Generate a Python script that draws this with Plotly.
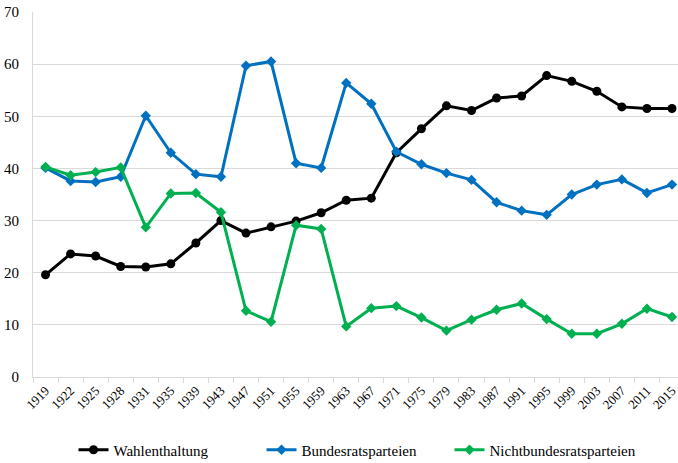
import plotly.graph_objects as go

years = ["1919", "1922", "1925", "1928", "1931", "1935", "1939", "1943", "1947", "1951",
         "1955", "1959", "1963", "1967", "1971", "1975", "1979", "1983", "1987", "1991",
         "1995", "1999", "2003", "2007", "2011", "2015"]

wahlenthaltung = [19.6, 23.6, 23.2, 21.2, 21.1, 21.7, 25.7, 30.0, 27.6, 28.8,
                  29.9, 31.5, 33.9, 34.3, 43.0, 47.6, 52.0, 51.1, 53.5, 53.9,
                  57.8, 56.7, 54.8, 51.8, 51.5, 51.5]

bundesratsparteien = [40.1, 37.6, 37.4, 38.4, 50.1, 43.0, 38.9, 38.4, 59.7, 60.5,
                      41.0, 40.1, 56.4, 52.4, 43.2, 40.8, 39.1, 37.8, 33.5, 31.9,
                      31.1, 35.0, 36.9, 37.9, 35.3, 36.9]

nichtbundesratsparteien = [40.3, 38.7, 39.3, 40.2, 28.7, 35.2, 35.3, 31.6, 12.7, 10.6,
                           29.1, 28.4, 9.7, 13.2, 13.6, 11.4, 8.9, 11.0, 12.9, 14.1,
                           11.1, 8.3, 8.3, 10.2, 13.1, 11.5]

y_ticks = [0, 10, 20, 30, 40, 50, 60, 70]

FONT = "Liberation Serif"

fig = go.Figure()
fig.add_trace(go.Scatter(x=years, y=wahlenthaltung, name="Wahlenthaltung", mode="lines+markers",
                         line=dict(color="#000000", width=3),
                         marker=dict(symbol="circle", size=9, color="#000000")))
fig.add_trace(go.Scatter(x=years, y=bundesratsparteien, name="Bundesratsparteien", mode="lines+markers",
                         line=dict(color="#0070C0", width=3),
                         marker=dict(symbol="diamond", size=8, color="#0070C0")))
fig.add_trace(go.Scatter(x=years, y=nichtbundesratsparteien, name="Nichtbundesratsparteien", mode="lines+markers",
                         line=dict(color="#00B050", width=3),
                         marker=dict(symbol="diamond", size=8, color="#00B050")))

fig.update_layout(
    width=678, height=463,
    margin=dict(l=33, r=0, t=12, b=86, autoexpand=False),
    plot_bgcolor="white", paper_bgcolor="white",
    font=dict(family=FONT, size=15, color="#000000"),
    showlegend=True,
    legend=dict(orientation="h", x=0.5, xanchor="center", y=-0.2, yanchor="middle",
                font=dict(family=FONT, size=15), traceorder="normal",
                entrywidth=143, entrywidthmode="pixels"),
    xaxis=dict(type="category", range=[-0.5, 25.24], showgrid=False, automargin=False,
               showline=True, linecolor="#D9D9D9", linewidth=1,
               ticks="outside", tickson="boundaries", ticklen=5, tickcolor="#D9D9D9",
               tickangle=-45, tickfont=dict(family=FONT, size=13)),
    yaxis=dict(range=[0, 70], tickvals=y_ticks, showgrid=True, gridcolor="#D9D9D9", gridwidth=1,
               automargin=False, ticklabelstandoff=10,
               showline=True, linecolor="#D9D9D9", linewidth=1, zeroline=False,
               ticks="", tickfont=dict(family=FONT, size=15)),
)

fig.write_html("out.html", config={"displayModeBar": False},
               post_script="document.body.style.margin='0';document.body.style.overflow='hidden';")
